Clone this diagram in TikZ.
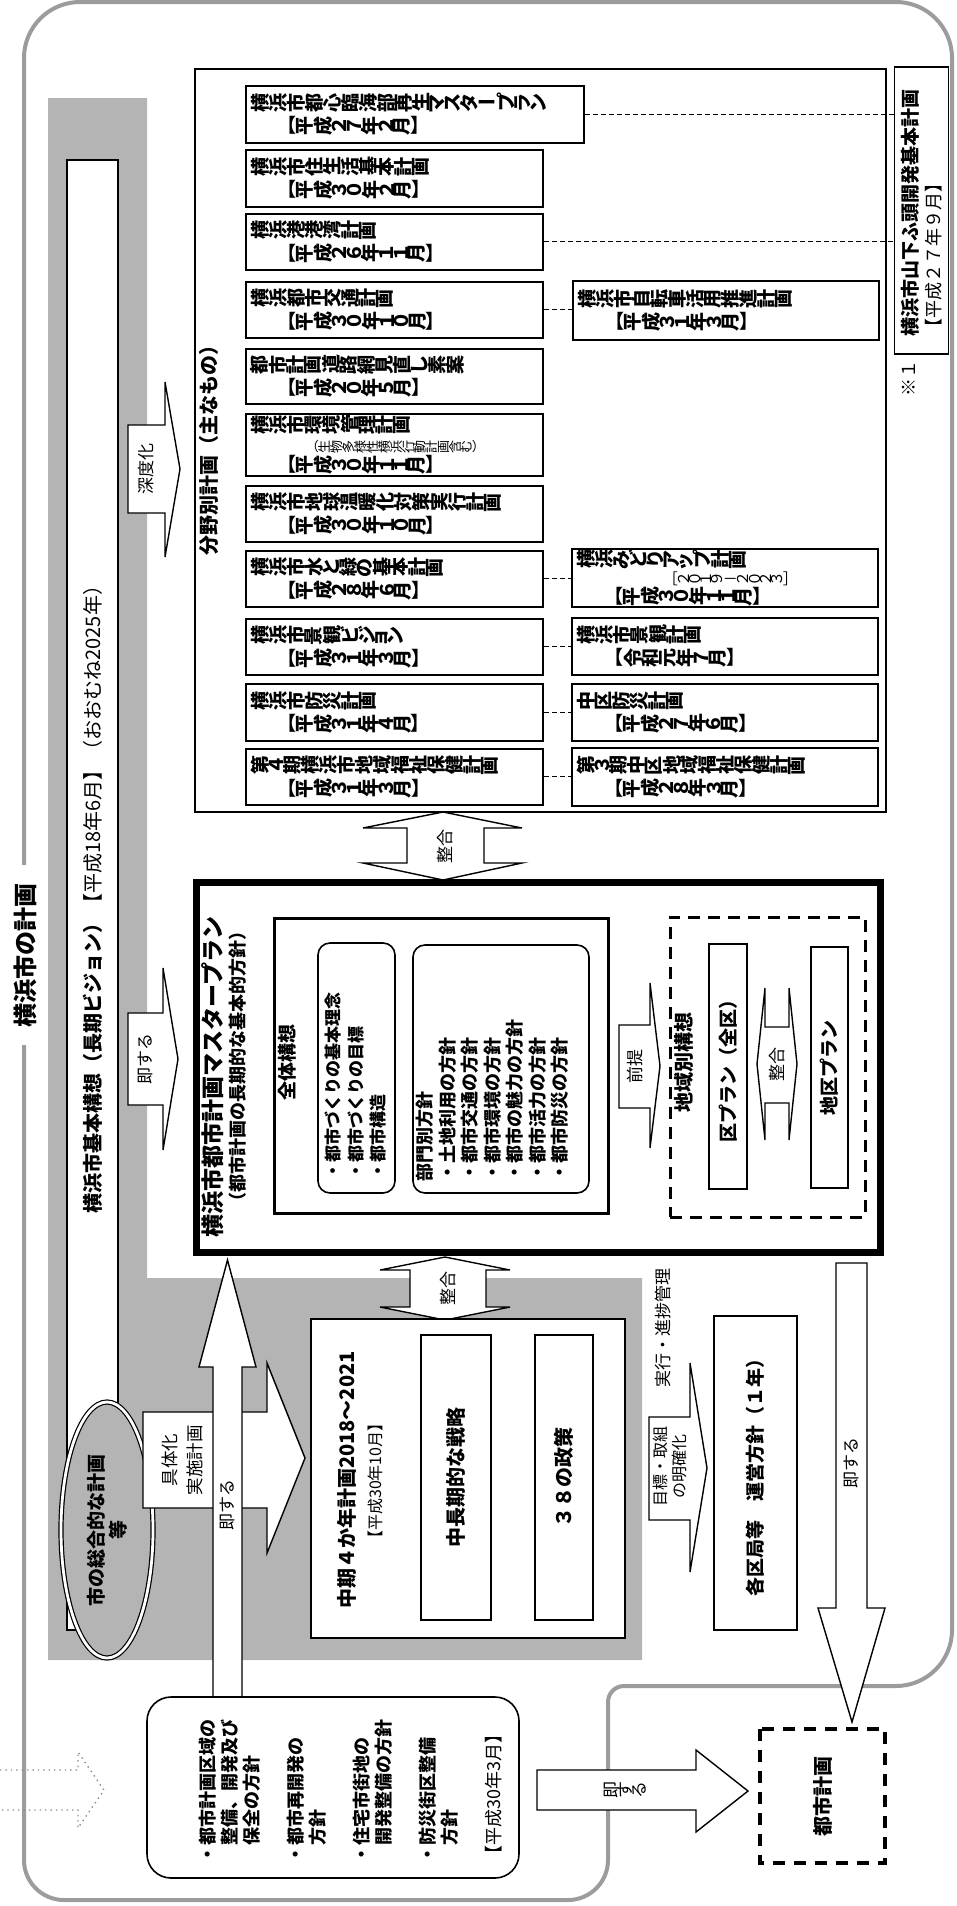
\documentclass[tikz,border=0pt]{standalone}
\usepackage{fontspec}
\setmainfont{Noto Sans CJK JP}
\usepackage{graphicx}
\usetikzlibrary{positioning,shapes.geometric}

\definecolor{bandgray}{HTML}{B4B4B4}
\definecolor{framegray}{HTML}{9C9C9C}

% characters of a vertical line, each turned on its own
\ExplSyntaxOn
\tl_const:Nn \c_tate_upright_tl {【】（）［］ー－～}
\NewDocumentCommand \tate { m }
  {
    \tl_map_inline:nn {#1}
      {
        \tl_if_in:NnTF \c_tate_upright_tl {##1}
          {##1}
          { \rotatebox[origin=c]{90}{##1} }
      }
  }
\ExplSyntaxOff

\tikzset{
  plan/.style={draw, line width=0.8pt, fill=white, anchor=north west, inner xsep=2.5pt, inner ysep=0pt, align=left, font=\bfseries\fontsize{9.5}{11.5}\selectfont},
  rotxt/.style={rotate=90, inner sep=1pt},
  lbl/.style={rotxt, font=\fontsize{8.5}{10.5}\selectfont},
  blockarrow/.style={draw, fill=white, line width=0.7pt},
  dotarrow/.style={draw=black!45, line width=0.7pt, dotted},
  link/.style={draw, line width=0.6pt, dash pattern=on 2.5pt off 1.5pt},
  plainbox/.style={draw, line width=0.8pt},
  dashbox/.style={draw, line width=1.5pt, dash pattern=on 6pt off 4pt},
  outerframe/.style={draw=framegray, line width=2pt},
}

\begin{document}
\begin{tikzpicture}[x=0.5pt, y=-0.5pt]
\useasboundingbox (0,0) rectangle (957,1906);

% frame and grey band
\draw[outerframe] (24,1000) [rounded corners=28pt] -- (24,2) -- (952,2) -- (952,1686) [rounded corners=8pt] -- (608,1686) [rounded corners=20pt] -- (608,1900) -- (24,1900) -- cycle;
\fill[bandgray] (48,98) -- (147,98) -- (147,1278) -- (642,1278) -- (642,1660) -- (48,1660) -- cycle;

\node[plainbox, fill=white, inner sep=0pt, minimum width=25.5pt, minimum height=735pt] (kihon) at (92.5,895) {};
\node[rotxt, anchor=west, font=\fontsize{10}{12}\selectfont] (kihontxt) at (92.5,1216) {\textbf{横浜市基本構想（長期ビジョン）}【平成18年6月】（おおむね2025年）};
\node[rotxt, fill=white, inner xsep=9pt, inner ysep=2pt, font=\bfseries\fontsize{12}{14}\selectfont] (keikaku) at (25,955) {横浜市の計画};

% block arrows
\draw[blockarrow] (128,425) -- (165,425) -- (165,382) -- (180,469) -- (165,557) -- (165,513) -- (128,513) -- cycle;
\node[lbl] (shindo) at (146.5,469) {深度化};
\draw[blockarrow] (128,1013) -- (163,1013) -- (163,968) -- (178,1059) -- (163,1150) -- (163,1105) -- (128,1105) -- cycle;
\node[lbl] (soku1) at (145.5,1059) {即する};
\draw[blockarrow] (407,828) -- (363,828) -- (443,812) -- (522,828) -- (484,828) -- (484,863) -- (522,863) -- (443,880) -- (363,863) -- (407,863) -- cycle;
\node[lbl] (seigo1) at (445.5,846) {整合};

% field plans
\node[plainbox, minimum width=345.5pt, minimum height=371.5pt] (bunya) at (540.5,440.5) {};
\node[rotxt, anchor=west, font=\bfseries\fontsize{10}{12}\selectfont] (bunyatitle) at (209,558) {分野別計画（主なもの）};

\node[plan, text width=164pt, minimum height=28.5pt] (toshin) at (245,85) {\tate{横浜市都心臨海部再生マスタープラン}\\\hspace*{13.5pt}\tate{【平成２７年２月】}};
\node[plan, text width=143.5pt, minimum height=28.5pt] (jusei) at (245,149) {\tate{横浜市住生活基本計画}\\\hspace*{13.5pt}\tate{【平成３０年２月】}};
\node[plan, text width=143.5pt, minimum height=28pt] (kowan) at (245,213) {\tate{横浜港港湾計画}\\\hspace*{13.5pt}\tate{【平成２６年１１月】}};
\node[plan, text width=143.5pt, minimum height=28pt] (kotsu) at (245,281) {\tate{横浜都市交通計画}\\\hspace*{13.5pt}\tate{【平成３０年１０月】}};
\node[plan, text width=143.5pt, minimum height=27.5pt] (doro) at (245,348) {\tate{都市計画道路網見直し素案}\\\hspace*{13.5pt}\tate{【平成２０年５月】}};
\node[plan, text width=143.5pt, minimum height=31pt] (kankyo) at (245,413) {\tate{横浜市環境管理計画}\\[-1.5pt]\hspace*{27.5pt}{\mdseries\fontsize{6.5}{8}\selectfont\tate{（生物多様性横浜行動計画含む）}}\\[-1.5pt]\hspace*{13.5pt}\tate{【平成３０年１１月】}};
\node[plan, text width=143.5pt, minimum height=28pt] (ondanka) at (245,485) {\tate{横浜市地球温暖化対策実行計画}\\\hspace*{13.5pt}\tate{【平成３０年１０月】}};
\node[plan, text width=143.5pt, minimum height=28pt] (mizumidori) at (245,550) {\tate{横浜市水と緑の基本計画}\\\hspace*{13.5pt}\tate{【平成２８年６月】}};
\node[plan, text width=143.5pt, minimum height=28pt] (keikanv) at (245,618) {\tate{横浜市景観ビジョン}\\\hspace*{13.5pt}\tate{【平成３１年３月】}};
\node[plan, text width=143.5pt, minimum height=28.5pt] (bosai) at (245,683) {\tate{横浜市防災計画}\\\hspace*{13.5pt}\tate{【平成３１年４月】}};
\node[plan, text width=143.5pt, minimum height=28pt] (fukushi) at (245,748) {\tate{第４期横浜市地域福祉保健計画}\\\hspace*{13.5pt}\tate{【平成３１年３月】}};

\node[plan, text width=148pt, minimum height=29.5pt] (jitensha) at (572,280) {\tate{横浜市自転車活用推進計画}\\\hspace*{14pt}\tate{【平成３１年３月】}};
\node[plan, text width=148pt, minimum height=29pt] (midori) at (571,548) {\tate{横浜みどりアップ計画}\\[-2.2pt]\hspace*{43pt}{\mdseries\fontsize{7.5}{9}\selectfont\tate{［２０１９－２０２３］}}\\[-2.2pt]\hspace*{14pt}\tate{【平成３０年１１月】}};
\node[plan, text width=148pt, minimum height=28.5pt] (keikanp) at (571,617) {\tate{横浜市景観計画}\\\hspace*{14pt}\tate{【令和元年７月】}};
\node[plan, text width=148pt, minimum height=28.5pt] (nakabosai) at (571,683) {\tate{中区防災計画}\\\hspace*{14pt}\tate{【平成２７年６月】}};
\node[plan, text width=148pt, minimum height=29pt] (nakafukushi) at (571,747) {\tate{第３期中区地域福祉保健計画}\\\hspace*{14pt}\tate{【平成２８年３月】}};

\node[plainbox, rotate=90, minimum width=143.5pt, minimum height=25.5pt, inner xsep=9pt, text width=125.5pt, align=left, font=\fontsize{9.5}{11.5}\selectfont] (note) at (921.5,210.5) {\textbf{横浜市山下ふ頭開発基本計画}\\{\fontsize{9}{11}\selectfont【平成２７年９月】}};
\node[rotxt, font=\fontsize{9}{11}\selectfont] (kome) at (909,378) {※１};

\draw[link] (toshin.east) -- (toshin.east -| note.north);
\draw[link] (kowan.east) -- (kowan.east -| note.north);
\draw[link] (kotsu.east) -- (kotsu.east -| jitensha.west);
\draw[link] (mizumidori.east) -- (mizumidori.east -| midori.west);
\draw[link] (keikanv.east) -- (keikanv.east -| keikanp.west);
\draw[link] (bosai.east) -- (bosai.east -| nakabosai.west);
\draw[link] (fukushi.east) -- (fukushi.east -| nakafukushi.west);

% master plan
\node[draw, line width=3.5pt, minimum width=342pt, minimum height=185pt] (master) at (538,1067) {};
\node[rotxt, anchor=west, font=\bfseries\fontsize{11.5}{13}\selectfont] (mtitle) at (213,1240) {横浜市都市計画マスタープラン};
\node[rotxt, anchor=west, font=\bfseries\fontsize{9}{11}\selectfont] (msub) at (238,1213) {（都市計画の長期的な基本的方針）};

\node[draw, line width=1.5pt, minimum width=167pt, minimum height=147.5pt] (zentai) at (441.5,1066) {};
\node[rotxt, font=\bfseries\fontsize{9.5}{11}\selectfont] (zentaititle) at (287,1062) {全体構想};
\node[plainbox, rounded corners=6pt, minimum width=38.5pt, minimum height=125pt] (rbox1) at (356.5,1068) {};
\node[rotxt, anchor=north west, inner sep=0pt, align=left, font=\bfseries\fontsize{8.5}{11.25}\selectfont] (rinen) at (324.5,1180) {・都市づくりの基本理念\\・都市づくりの目標\\・都市構造};
\node[plainbox, rounded corners=6pt, minimum width=88pt, minimum height=124pt] (rbox2) at (501,1069) {};
\node[rotxt, anchor=north west, inner sep=0pt, align=left, font=\bfseries\fontsize{9}{11.25}\selectfont] (bumon) at (416,1182) {部門別方針\\・土地利用の方針\\・都市交通の方針\\・都市環境の方針\\・都市の魅力の方針\\・都市活力の方針\\・都市防災の方針};

\draw[blockarrow] (619,1025) -- (650,1025) -- (650,983) -- (660,1066) -- (650,1148) -- (650,1108) -- (619,1108) -- cycle;
\node[lbl] (zentei) at (634.5,1066) {前提};

\node[dashbox, minimum width=97.5pt, minimum height=150pt] (chiiki) at (767.5,1067) {};
\node[rotxt, font=\bfseries\fontsize{10}{12}\selectfont] (chiikititle) at (684,1062) {地域別構想};
\node[plainbox, rotate=90, minimum width=122.5pt, minimum height=19pt, font=\bfseries\fontsize{9.5}{11}\selectfont] (ku) at (728,1066.5) {区プラン（全区）};
\draw[blockarrow] (757,1064) -- (765,988) -- (765,1027) -- (789,1027) -- (789,988) -- (797,1064) -- (789,1140) -- (789,1103) -- (765,1103) -- (765,1140) -- cycle;
\node[lbl] (seigo3) at (777,1064) {整合};
\node[plainbox, rotate=90, minimum width=120.5pt, minimum height=18.5pt, font=\bfseries\fontsize{9.5}{11}\selectfont] (chiku) at (829.5,1067.5) {地区プラン};

% city general plans
\node[ellipse, draw, double, double distance=1.4pt, line width=0.6pt, fill=bandgray, rotate=90, minimum width=128pt, minimum height=46pt, inner sep=0pt, align=center, font=\bfseries\fontsize{9.5}{11}\selectfont] (sogo) at (107,1530) {市の総合的な計画\\等};
\draw[blockarrow] (143,1412) -- (267,1412) -- (267,1363) -- (305,1458) -- (267,1553) -- (267,1508) -- (143,1508) -- cycle;
\node[lbl, align=center, font=\fontsize{8.75}{12.5}\selectfont] (gutai) at (182,1460) {具体化\\実施計画};
\draw[blockarrow] (213,1697) -- (213,1367) -- (199,1367) -- (227.5,1260) -- (256,1367) -- (242,1367) -- (242,1697) -- cycle;
\node[lbl] (soku2) at (227.5,1505) {即する};

\draw[blockarrow] (410,1270) -- (380,1270) -- (445,1257) -- (510,1270) -- (486,1270) -- (486,1307) -- (510,1307) -- (445,1320) -- (380,1307) -- (410,1307) -- cycle;
\node[lbl] (seigo2) at (448,1288.5) {整合};

\node[plainbox, fill=white, minimum width=157pt, minimum height=159.5pt] (chuki) at (468,1478.5) {};
\node[rotxt, font=\bfseries\fontsize{10}{12}\selectfont] (chukititle) at (347,1480) {中期４か年計画2018～2021};
\node[rotxt, font=\fontsize{8}{10}\selectfont] (chukidate) at (375,1481) {【平成30年10月】};
\node[plainbox, rotate=90, minimum width=142.5pt, minimum height=35pt, font=\bfseries\fontsize{10}{12}\selectfont] (senryaku) at (456,1477.5) {中長期的な戦略};
\node[plainbox, rotate=90, minimum width=142.5pt, minimum height=29pt, font=\bfseries\fontsize{10}{12}\selectfont] (seisaku) at (564,1477.5) {３８の政策};

\node[lbl] (jikko) at (663,1328) {実行・進捗管理};
\draw[blockarrow] (649,1417) -- (690,1417) -- (690,1363) -- (707,1468) -- (690,1572) -- (690,1520) -- (649,1520) -- cycle;
\node[lbl, align=center, font=\fontsize{8}{9.5}\selectfont] (mokuhyo) at (670,1466) {目標・取組\\の明確化};
\node[plainbox, rotate=90, minimum width=157pt, minimum height=41.5pt, font=\bfseries\fontsize{9.5}{11}\selectfont] (kakukyoku) at (755.5,1473) {各区局等　運営方針（１年）};

\draw[blockarrow] (836,1263) -- (867,1263) -- (867,1608) -- (885,1608) -- (852,1722) -- (818,1608) -- (836,1608) -- cycle;
\node[lbl] (soku3) at (851.5,1463) {即する};

% bottom row
\draw[dotarrow] (0,1770) -- (78,1770) -- (78,1752) -- (104,1790) -- (78,1828) -- (78,1810) -- (0,1810);
\node[plainbox, rounded corners=12pt, minimum width=186pt, minimum height=90.5pt] (hoshin) at (333,1787.5) {};
\node[rotxt, anchor=north west, inner sep=0pt, align=left, font=\bfseries\fontsize{9}{11}\selectfont] (hoshintxt) at (199,1864) {・都市計画区域の\\\hspace*{1em}整備、開発及び\\\hspace*{1em}保全の方針\\[11pt]・都市再開発の\\\hspace*{1em}方針\\[11pt]・住宅市街地の\\\hspace*{1em}開発整備の方針\\[11pt]・防災街区整備\\\hspace*{1em}方針\\[11pt]\mdseries【平成30年3月】};
\draw[blockarrow] (537,1770) -- (696,1770) -- (696,1750) -- (748,1791) -- (696,1832) -- (696,1810) -- (537,1810) -- cycle;
\node[inner sep=0pt, font=\fontsize{8.5}{10.5}\selectfont] (soku4) at (625,1790) {\tate{即する}};
\node[draw, rotate=90, line width=1.8pt, dash pattern=on 6pt off 4.5pt, minimum width=67pt, minimum height=62.5pt, font=\bfseries\fontsize{10}{12}\selectfont] (toshikeikaku) at (822.5,1796) {都市計画};

\end{tikzpicture}
\end{document}
